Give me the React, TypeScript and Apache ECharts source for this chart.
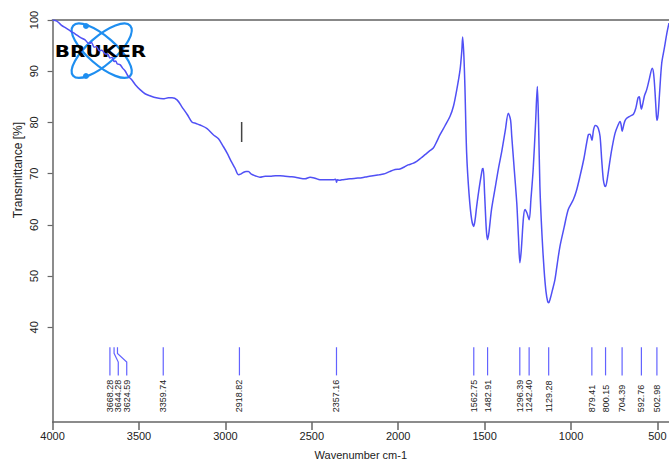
import React, { useEffect, useRef } from "react";
import * as echarts from "echarts";

// Spectrum (wavenumber cm-1, transmittance %)
const wavenumbers = [
  4000, 3975, 3950, 3922, 3895, 3870, 3840, 3812, 3790, 3775, 3760, 3745, 3730, 3715, 3697, 3680, 3668, 3655, 3644, 3635,
  3625, 3610, 3595, 3581, 3562, 3541, 3520, 3494, 3465, 3436, 3400, 3361, 3330, 3309, 3280, 3251, 3220, 3194, 3170, 3147,
  3106, 3070, 3040, 3012, 2990, 2968, 2945, 2925, 2912, 2898, 2880, 2867, 2850, 2829, 2800, 2770, 2742, 2710, 2684, 2655,
  2626, 2595, 2568, 2539, 2510, 2481, 2453, 2420, 2377, 2362, 2357, 2352, 2340, 2325, 2300, 2279, 2245, 2210, 2180, 2146,
  2110, 2076, 2050, 2018, 1990, 1965, 1943, 1915, 1893, 1870, 1845, 1820, 1797, 1778, 1758, 1730, 1700, 1680, 1661, 1642,
  1632, 1627, 1620, 1614, 1604, 1590, 1575, 1563, 1555, 1546, 1530, 1513, 1508, 1500, 1490, 1483, 1475, 1460, 1440, 1421,
  1400, 1380, 1363, 1350, 1343, 1330, 1314, 1304, 1296, 1288, 1275, 1266, 1255, 1242, 1232, 1219, 1205, 1195, 1188, 1180,
  1168, 1156, 1145, 1135, 1129, 1120, 1108, 1093, 1080, 1064, 1040, 1016, 987, 970, 948, 925, 900, 890, 879, 870,
  860, 851, 842, 832, 822, 813, 805, 800, 790, 774, 760, 745, 730, 716, 710, 704, 695, 688, 678, 660,
  639, 625, 612, 605, 598, 593, 585, 575, 562, 548, 530, 522, 514, 508, 503, 496, 488, 475, 460, 445, 433,
];
const transmittance = [
  100, 99.8, 99.0, 98.4, 97.8, 97.3, 96.6, 96.1, 95.4, 95.6, 94.7, 94.8, 94.0, 94.1, 93.4, 93.3, 92.6, 92.7, 91.9, 92.0,
  91.4, 91.3, 90.6, 90.1, 89.0, 88.3, 87.3, 86.4, 85.6, 85.2, 84.8, 84.6, 84.8, 84.8, 84.4, 83.0, 81.5, 80.1, 79.8, 79.5,
  78.8, 77.6, 76.8, 75.3, 74.0, 72.5, 71.1, 69.8, 69.9, 70.2, 70.4, 70.4, 69.9, 69.6, 69.3, 69.5, 69.5, 69.6, 69.6, 69.5,
  69.4, 69.3, 69.1, 69.0, 69.3, 69.1, 68.8, 68.8, 68.8, 68.9, 68.3, 68.8, 68.7, 68.8, 68.9, 69.0, 69.1, 69.2, 69.4, 69.6,
  69.8, 70.0, 70.4, 70.8, 70.9, 71.3, 71.7, 72.0, 72.4, 73.0, 73.7, 74.4, 75.0, 76.2, 77.6, 79.3, 81.2, 83.2, 86.4, 90.3,
  94.0, 96.7, 93.0, 87.0, 74.0, 66.0, 61.0, 59.7, 61.0, 63.6, 67.5, 70.9, 71.0, 66.0, 59.0, 57.1, 58.5, 63.0, 67.0, 70.8,
  74.5, 78.5, 81.8, 80.5, 77.3, 71.5, 64.3, 57.5, 52.6, 55.0, 61.5, 63.0, 62.3, 61.0, 65.0, 70.8, 80.0, 87.0, 80.0, 67.5,
  58.0, 51.3, 47.0, 45.0, 44.8, 45.6, 47.2, 49.3, 52.3, 55.8, 59.5, 63.0, 64.9, 66.5, 69.5, 73.0, 77.6, 77.7, 76.5, 78.5,
  79.4, 79.3, 78.8, 77.3, 72.5, 68.8, 67.6, 67.5, 69.0, 72.7, 75.5, 77.9, 79.3, 80.2, 79.5, 78.3, 79.5, 80.3, 80.8, 81.2,
  81.6, 82.8, 84.8, 85.0, 83.5, 82.6, 83.6, 85.2, 86.4, 88.3, 90.6, 89.5, 86.0, 82.5, 80.4, 81.5, 85.5, 91.6, 94.5, 97.5, 99.4,
];

// Peak picks and where their labels sit (spread apart where crowded)
const peakWavenumbers = [3668.28, 3644.28, 3624.59, 3359.74, 2918.82, 2357.16, 1562.75, 1482.91, 1296.39, 1242.4, 1129.28, 879.41, 800.15, 704.39, 592.76, 502.98];
const peakLabelAt = [3668.28, 3620, 3571, 3359.74, 2918.82, 2357.16, 1562.75, 1482.91, 1296.39, 1242.4, 1129.28, 879.41, 800.15, 704.39, 592.76, 502.98];

// Y-axis and X-axis tick labels
const yTicks = [40, 50, 60, 70, 80, 90, 100];
const xTicks = [500, 1000, 1500, 2000, 2500, 3000, 3500, 4000];

// Small vertical marker near 2900 cm-1
const markerWavenumber = [2906, 2906];
const markerValues = [80.1, 76.2];

const FONT = "'Liberation Sans', Arial, sans-serif";
const MARK_TOP = 36.1;
const BEND_A = 34.9;
const BEND_B = 33.2;
const MARK_BOTTOM = 30.6;
const LABEL_AT = 23.4;

export default function App() {
  const ref = useRef<HTMLDivElement>(null);
  useEffect(() => {
    document.body.style.margin = "0";
    const chart = echarts.init(ref.current!, null, { renderer: "svg" });
    const spectrum = wavenumbers.map((w, i) => [w, transmittance[i]]);
    const peaks = peakWavenumbers.map((w, i) => [w, peakLabelAt[i], MARK_TOP]);
    const marker = markerWavenumber.map((w, i) => [w, markerValues[i]]);

    chart.setOption({
      animation: false,
      grid: { left: 52.6, right: 0, top: 20, bottom: 37, containLabel: false, outerBoundsMode: "none" },
      xAxis: [
        {
          type: "value",
          inverse: true,
          min: 433,
          max: 4000,
          name: "Wavenumber cm-1",
          nameLocation: "middle",
          nameGap: 27,
          nameTextStyle: { fontFamily: FONT, fontSize: 11, color: "#222" },
          axisLine: { show: true, onZero: false, lineStyle: { color: "#666", width: 1.5 } },
          axisTick: { show: true, length: 8, customValues: xTicks, lineStyle: { color: "#666", width: 1.5 } },
          axisLabel: { customValues: xTicks, formatter: (v: number) => String(v), fontFamily: FONT, fontSize: 11, color: "#222", margin: 8 },
          splitLine: { show: false },
        },
        {
          type: "value",
          position: "top",
          inverse: true,
          min: 433,
          max: 4000,
          axisLine: { show: true, onZero: false, lineStyle: { color: "#888", width: 2 } },
          axisTick: { show: false },
          axisLabel: { show: false },
          splitLine: { show: false },
        },
      ],
      yAxis: {
        type: "value",
        min: 21.5,
        max: 100,
        axisLine: { show: true, onZero: false, lineStyle: { color: "#666", width: 1.5 } },
        axisTick: { show: true, length: 5, inside: false, customValues: yTicks, lineStyle: { color: "#666", width: 1.2 } },
        axisLabel: { customValues: yTicks, formatter: (v: number) => String(v), rotate: 90, fontFamily: FONT, fontSize: 11, color: "#222", margin: 13 },
        splitLine: { show: false },
      },
      graphic: [
        {
          type: "text",
          x: 18,
          y: 170,
          rotation: Math.PI / 2,
          style: { text: "Transmittance [%]", fontFamily: FONT, fontSize: 12, fill: "#222", align: "center", verticalAlign: "middle" },
        },
        {
          type: "group",
          z: 1,
          children: [
            { type: "ellipse", x: 101.7, y: 50.7, rotation: 0.72, shape: { cx: 0, cy: 0, rx: 38, ry: 14 }, style: { fill: "none", stroke: "#1e8ef0", lineWidth: 2.2 } },
            { type: "ellipse", x: 101.7, y: 50.7, rotation: -0.72, shape: { cx: 0, cy: 0, rx: 38, ry: 14 }, style: { fill: "none", stroke: "#1e8ef0", lineWidth: 2.2 } },
            { type: "circle", shape: { cx: 86, cy: 26, r: 3 }, style: { fill: "#1e8ef0" } },
            { type: "circle", shape: { cx: 86, cy: 76, r: 3 }, style: { fill: "#1e8ef0" } },
            {
              type: "text",
              x: 100.5,
              y: 51.5,
              scaleX: 1.25,
              style: { text: "BRUKER", fontFamily: "'DejaVu Sans', sans-serif", fontWeight: "bold", fontSize: 16, fill: "#000", align: "center", verticalAlign: "middle" },
            },
          ],
        },
      ],
      series: [
        {
          type: "line",
          data: spectrum,
          showSymbol: false,
          smooth: 0.3,
          z: 3,
          lineStyle: { color: "#5050f5", width: 1.5 },
        },
        {
          type: "line",
          data: marker,
          showSymbol: false,
          lineStyle: { color: "#444", width: 1.5 },
        },
        {
          type: "custom",
          data: peaks,
          encode: { x: [0, 1], y: 2 },
          clip: false,
          renderItem: (params: any, api: any) => {
            const w = api.value(0);
            const lw = api.value(1);
            const top = api.coord([w, MARK_TOP]);
            const a = api.coord([w, BEND_A]);
            const b = api.coord([lw, BEND_B]);
            const bot = api.coord([lw, MARK_BOTTOM]);
            const lab = api.coord([lw, LABEL_AT]);
            const pts = w === lw ? [top, bot] : [top, a, b, bot];
            return {
              type: "group",
              children: [
                { type: "polyline", shape: { points: pts }, style: { stroke: "#6262ff", lineWidth: 1.2, fill: null } },
                {
                  type: "text",
                  x: lab[0],
                  y: lab[1],
                  rotation: Math.PI / 2,
                  style: { text: w.toFixed(2), fontFamily: FONT, fontSize: 9, fill: "#222", align: "left", verticalAlign: "middle" },
                },
              ],
            };
          },
        },
      ],
    });
    return () => chart.dispose();
  }, []);
  return <div ref={ref} style={{ width: 669, height: 459 }} />;
}
